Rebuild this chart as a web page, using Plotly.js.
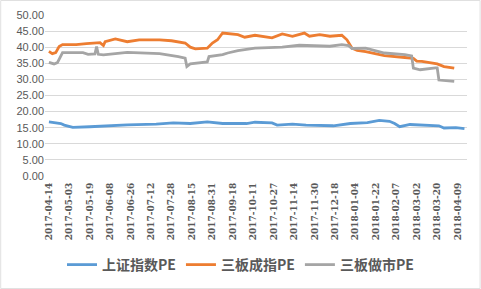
<!DOCTYPE html>
<html>
<head>
<meta charset="utf-8">
<script src="https://cdn.plot.ly/plotly-3.0.1.min.js"></script>
<style>
html,body{margin:0;padding:0;background:#fff;}
#chart{width:481px;height:289px;}
</style>
</head>
<body>
<div id="chart"></div>
<script>
// Trading-day index of each tick label
var tickIdx = [0,12,24,36,48,60,72,84,96,108,120,132,144,156,168,180,192,204,216,228,240];
var tickLabels = ["2017-04-14","2017-05-03","2017-05-19","2017-06-08","2017-06-26","2017-07-12","2017-07-28","2017-08-15","2017-08-31","2017-09-18","2017-10-11","2017-10-27","2017-11-14","2017-11-30","2017-12-18","2018-01-04","2018-01-22","2018-02-07","2018-03-02","2018-03-20","2018-04-09"];

// 上证指数PE
var shIdx = [0,7,9,14,24,34,46,63,73,83,93,102,116,121,131,134,143,151,167,177,187,194,200,203,206,212,220,229,232,239,244];
var shPE  = [16.8,16.3,15.8,15.1,15.3,15.6,15.9,16.1,16.5,16.3,16.8,16.3,16.3,16.7,16.5,15.8,16.1,15.8,15.6,16.3,16.6,17.3,17.0,16.3,15.3,16.0,15.8,15.6,14.9,15.0,14.7];

// 三板成指PE
var cfIdx = [0,2,4,6,8,16,22,30,32,33,39,46,53,65,72,80,83,86,93,96,99,102,111,115,121,126,131,137,143,150,153,159,165,172,175,178,181,186,197,209,214,216,219,228,232,238];
var cfPE  = [38.7,38.0,38.3,40.2,40.8,40.8,41.1,41.4,40.5,41.7,42.6,41.7,42.3,42.3,42.0,41.3,40.0,39.5,39.7,41.3,42.3,44.4,43.9,43.1,43.7,43.4,42.9,44.1,43.4,44.4,43.4,43.9,43.4,43.7,42.3,39.7,39.0,38.6,37.4,36.8,36.5,35.7,35.6,34.8,34.0,33.5];

// 三板做市PE
var zsIdx = [0,3,5,7,8,20,23,27,28,29,32,46,65,76,80,81,83,93,94,102,105,111,121,137,147,165,172,176,178,186,197,209,213,214,218,227,228,229,238];
var zsPE  = [35.3,34.8,35.2,37.5,38.3,38.3,37.8,37.9,40.2,37.8,37.6,38.4,38.0,37.1,36.6,34.0,34.8,35.4,37.1,37.7,38.2,38.9,39.7,40.0,40.6,40.3,40.8,40.5,39.6,39.7,38.2,37.7,37.3,33.5,33.0,33.6,33.6,29.8,29.4];

var lw = 2.8;
var traces = [
  {x: shIdx, y: shPE, name: "上证指数PE", type: "scatter", mode: "lines", line: {color: "#5B9BD5", width: lw}},
  {x: cfIdx, y: cfPE, name: "三板成指PE", type: "scatter", mode: "lines", line: {color: "#ED7D31", width: lw}},
  {x: zsIdx, y: zsPE, name: "三板做市PE", type: "scatter", mode: "lines", line: {color: "#A5A5A5", width: lw}}
];

var layout = {
  width: 481, height: 289,
  margin: {l: 45, r: 14, t: 15, b: 113, pad: 0},
  paper_bgcolor: "#ffffff", plot_bgcolor: "#ffffff",
  font: {family: "Liberation Sans, DejaVu Sans, sans-serif", color: "#595959"},
  showlegend: true,
  legend: {orientation: "h", xref: "container", x: 0.5, xanchor: "center", yref: "container", y: 0.083, yanchor: "middle",
           font: {family: "Noto Sans CJK SC, sans-serif", size: 14, color: "#595959", weight: "bold"},
           itemwidth: 30, tracegroupgap: 0, traceorder: "normal"},
  xaxis: {type: "linear", range: [-2.3, 245.5], tickmode: "array", tickvals: tickIdx, ticktext: tickLabels,
          tickangle: -90, tickfont: {size: 9, color: "#595959", family: "DejaVu Serif, serif", weight: "bold"},
          ticklabelstandoff: 4,
          showgrid: false, zeroline: false, showline: false, ticks: "", fixedrange: true},
  yaxis: {range: [0, 50], dtick: 5, tickformat: ".2f", tickfont: {size: 11, color: "#595959"},
          showgrid: true, gridcolor: "#D9D9D9", gridwidth: 1, zeroline: false, showline: false,
          ticks: "", ticklen: 0, fixedrange: true},
  shapes: [{type: "rect", xref: "paper", yref: "paper", x0: -0.105, x1: 1.031, y0: -0.699, y1: 1.09,
            line: {color: "#E0E0E0", width: 1}, fillcolor: "rgba(0,0,0,0)", layer: "below"}]
};

Plotly.newPlot("chart", traces, layout, {staticPlot: true, displayModeBar: false});
</script>
</body>
</html>
